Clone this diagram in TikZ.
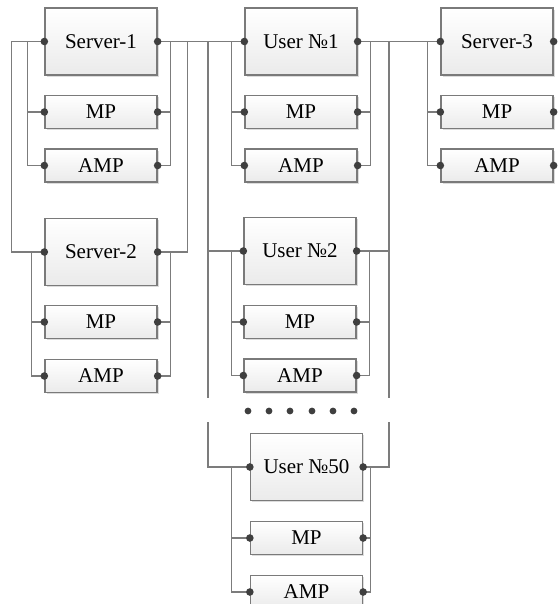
\documentclass[tikz,border=0pt]{standalone}
\usepackage{fontspec}
\newfontfamily\boxfont{LiberationSerif}[Extension=.ttf,UprightFont=*-Regular]
\usetikzlibrary{shadows}
\definecolor{wirec}{HTML}{7C7C7C}
\definecolor{boxc}{HTML}{7A7A7A}
\definecolor{dotc}{HTML}{3F3F3F}
\tikzset{
  box/.style={draw=boxc, line width=1.3pt, top color=white, bottom color=gray!16,
    drop shadow={shadow xshift=1.8pt, shadow yshift=-1.8pt, fill=gray!45, opacity=.6},
    minimum width=112pt, inner sep=0pt, font=\boxfont\fontsize{21}{23}\selectfont},
  bigbox/.style={box, minimum height=67pt},
  smallbox/.style={box, minimum height=33pt},
  wire/.style={draw=wirec, line width=1.2pt},
  jdot/.style={fill=dotc},
}
\begin{document}
\begin{tikzpicture}[x=1pt,y=-1pt]
\useasboundingbox (0,0) rectangle (558,604);
\clip (0,0) rectangle (558,604);
\fill[white] (0,0) rectangle (558,604);

% Server-1 group
\node[bigbox] (S1) at (101,41.5) {Server-1};
\node[smallbox] (S1M) at (101,112) {MP};
\node[smallbox] (S1A) at (101,165.5) {AMP};
% Server-2 group
\node[bigbox] (S2) at (101,252) {Server-2};
\node[smallbox] (S2M) at (101,322) {MP};
\node[smallbox] (S2A) at (101,376) {AMP};
% User 1 group
\node[bigbox] (U1) at (301,41.5) {User №1};
\node[smallbox] (U1M) at (301,112) {MP};
\node[smallbox] (U1A) at (301,165.5) {AMP};
% User 2 group
\node[bigbox] (U2) at (300,251) {User №2};
\node[smallbox] (U2M) at (300,322) {MP};
\node[smallbox] (U2A) at (300,375.5) {AMP};
% User 50 group
\node[bigbox] (U50) at (306.5,467) {User №50};
\node[smallbox] (U50M) at (306.5,538) {MP};
\node[smallbox] (U50A) at (306.5,592) {AMP};
% Server-3 group
\node[bigbox] (S3) at (497,41.5) {Server-3};
\node[smallbox] (S3M) at (497,112) {MP};
\node[smallbox] (S3A) at (497,165.5) {AMP};

% bus coordinates
\coordinate (gL1) at (208,398);
\coordinate (gL2) at (208,422);
\coordinate (gR1) at (389,398);
\coordinate (gR2) at (389,422);

% main horizontal
\draw[wire] (S1.east) -- (U1.west);
\draw[wire] (U1.east) -- (S3.west);

% Server-1 / Server-2 outer left loop
\draw[wire] (S1.west) -- ++(-33,0) |- (S2.west);
% Server-1 inner buses
\draw[wire] (S1.west) ++(-17,0) |- (S1A.west);
\draw[wire] (S1M.west) -- ++(-17,0);
\draw[wire] (S1.east) ++(13,0) |- (S1A.east);
\draw[wire] (S1M.east) -- ++(13,0);
% Server-2 right to main line
\draw[wire] (S2.east) -- ++(30,0) |- (S1.east);
% Server-2 inner buses
\draw[wire] (S2.west) ++(-13,0) |- (S2A.west);
\draw[wire] (S2M.west) -- ++(-13,0);
\draw[wire] (S2.east) ++(13,0) |- (S2A.east);
\draw[wire] (S2M.east) -- ++(13,0);

% left user trunk x=208
\draw[wire] (S1.east -| gL1) -- (gL1);
\draw[wire] (gL2) |- (U50.west);
\draw[wire] (U2.west) -- (U2.west -| gL1);
% right user trunk x=389
\draw[wire] (U1.east -| gR1) -- (gR1);
\draw[wire] (gR2) |- (U50.east);
\draw[wire] (U2.east) -- (U2.east -| gR1);

% User 1 buses
\draw[wire] (U1.west) ++(-13,0) |- (U1A.west);
\draw[wire] (U1M.west) -- ++(-13,0);
\draw[wire] (U1.east) ++(13,0) |- (U1A.east);
\draw[wire] (U1M.east) -- ++(13,0);
% User 2 buses
\draw[wire] (U2.west) ++(-12,0) |- (U2A.west);
\draw[wire] (U2M.west) -- ++(-12,0);
\draw[wire] (U2.east) ++(13,0) |- (U2A.east);
\draw[wire] (U2M.east) -- ++(13,0);
% User 50 buses
\draw[wire] (U50.west) ++(-18,0) |- (U50A.west);
\draw[wire] (U50M.west) -- ++(-18,0);
\draw[wire] (U50.east) ++(7,0) |- (U50A.east);
\draw[wire] (U50M.east) -- ++(7,0);
% Server-3 left bus
\draw[wire] (S3.west) ++(-13,0) |- (S3A.west);
\draw[wire] (S3M.west) -- ++(-13,0);

% junction dots on boxes
\foreach \n in {S1,S1M,S1A,S2,S2M,S2A,U1,U1M,U1A,U2,U2M,U2A,U50,U50M,U50A,S3,S3M,S3A}{
  \fill[jdot] (\n.west) circle (3.8pt);
  \fill[jdot] (\n.east) circle (3.8pt);
}

% ellipsis dots
\foreach \x in {248,269,290,312,333,354}{
  \fill[jdot] (\x,411) circle (3.4pt);
}
\end{tikzpicture}
\end{document}
